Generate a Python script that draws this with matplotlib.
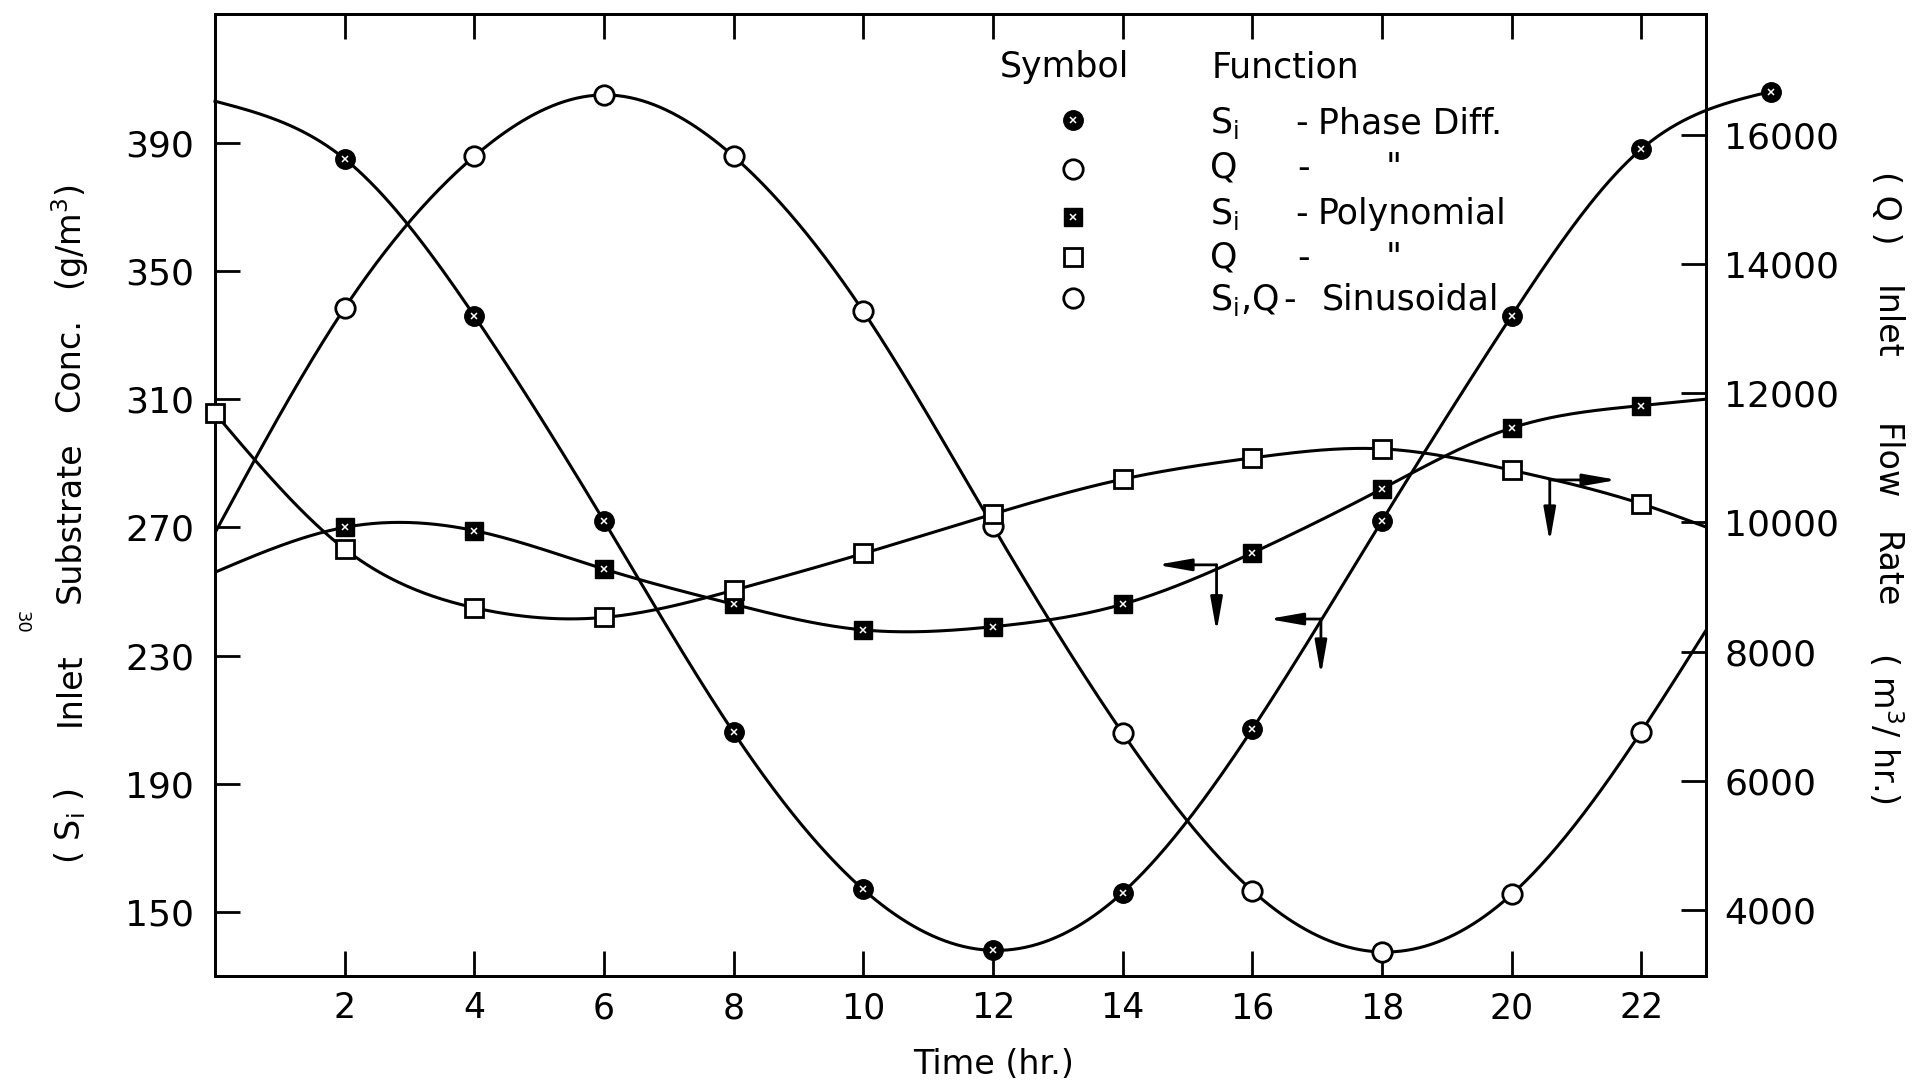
import numpy as np
import matplotlib
matplotlib.use("Agg")
import matplotlib.pyplot as plt
from matplotlib.lines import Line2D

plt.rcParams["font.family"] = ["DejaVu Sans"]
plt.rcParams["mathtext.default"] = "regular"

# ---- data -------------------------------------------------------------
# Inlet substrate concentration, phase-difference function (g/m3)
si_phase_t = [0, 2, 4, 6, 8, 10, 12, 14, 16, 18, 20, 22, 24]
si_phase = [403, 385, 336, 272, 206, 157, 138, 156, 207, 272, 336, 388, 406]
si_phase_marked = [2, 4, 6, 8, 10, 12, 14, 16, 18, 20, 22, 24]

# Inlet flow rate, phase-difference function (m3/hr)
q_phase_t = [0, 2, 4, 6, 8, 10, 12, 14, 16, 18, 20, 22, 23]
q_phase = [9840, 13320, 15670, 16620, 15670, 13270, 9940, 6740, 4300, 3350, 4240, 6760, 8330]
q_phase_marked = [2, 4, 6, 8, 10, 12, 14, 16, 18, 20, 22]

# Inlet substrate concentration, polynomial function (g/m3)
si_poly_t = [0, 2, 4, 6, 8, 10, 12, 14, 16, 18, 20, 22, 23]
si_poly = [256, 270, 269, 257, 246, 238, 239, 246, 262, 282, 301, 308, 310]
si_poly_marked = [2, 4, 6, 8, 10, 12, 14, 16, 18, 20, 22]

# Inlet flow rate, polynomial function (m3/hr)
q_poly_t = [0, 2, 4, 6, 8, 10, 12, 14, 16, 18, 20, 22, 23]
q_poly = [11690, 9590, 8680, 8530, 8950, 9520, 10130, 10670, 11000, 11140, 10810, 10290, 9930]
q_poly_marked = [0, 2, 4, 6, 8, 10, 12, 14, 16, 18, 20, 22]

time_ticks = [2, 4, 6, 8, 10, 12, 14, 16, 18, 20, 22]
si_ticks = [150, 190, 230, 270, 310, 350, 390]
q_ticks = [4000, 6000, 8000, 10000, 12000, 14000, 16000]


def smooth(x, y, n=500):
    """Natural cubic spline through the given points."""
    x = np.asarray(x, float)
    y = np.asarray(y, float)
    k = len(x)
    h = np.diff(x)
    A = np.zeros((k, k))
    r = np.zeros(k)
    A[0, 0] = A[-1, -1] = 1.0
    for i in range(1, k - 1):
        A[i, i - 1] = h[i - 1]
        A[i, i] = 2 * (h[i - 1] + h[i])
        A[i, i + 1] = h[i]
        r[i] = 3 * ((y[i + 1] - y[i]) / h[i] - (y[i] - y[i - 1]) / h[i - 1])
    c = np.linalg.solve(A, r)
    b = (y[1:] - y[:-1]) / h - h * (2 * c[:-1] + c[1:]) / 3
    d = (c[1:] - c[:-1]) / (3 * h)
    xs = np.linspace(x[0], x[-1], n)
    idx = np.clip(np.searchsorted(x, xs, side="right") - 1, 0, k - 2)
    dx = xs - x[idx]
    ys = y[idx] + b[idx] * dx + c[idx] * dx ** 2 + d[idx] * dx ** 3
    return xs, ys


def pick(ts, vals, marked):
    lookup = dict(zip(ts, vals))
    return marked, [lookup[t] for t in marked]


W, H = 1929, 1086
fig = plt.figure(figsize=(W / 100, H / 100), dpi=100)


def fx(px):
    return px / W


def fy(py):
    return 1 - py / H


ax = fig.add_axes([fx(215), fy(976), (1706 - 215) / W, (976 - 14) / H])
ax2 = ax.twinx()

ax.set_xlim(0, 23)
ax.set_ylim(130, 430.2)
ax2.set_ylim(2978, 17873)

LW = 2.2
MS_C = 14
MS_S = 13

# substrate curves (left axis)
xs, ys = smooth(si_phase_t, si_phase)
ax.plot(xs, ys, color="k", lw=LW, clip_on=False, zorder=3)
mx, my = pick(si_phase_t, si_phase, si_phase_marked)
ax.plot(mx, my, "o", ms=MS_C, mfc="k", mec="k", clip_on=False, zorder=4)
ax.plot(mx, my, "x", ms=5, mec="white", mew=1.1, clip_on=False, zorder=5)

xs, ys = smooth(si_poly_t, si_poly)
ax.plot(xs, ys, color="k", lw=LW, zorder=3)
mx, my = pick(si_poly_t, si_poly, si_poly_marked)
ax.plot(mx, my, "s", ms=MS_S, mfc="k", mec="k", clip_on=False, zorder=4)
ax.plot(mx, my, "x", ms=5, mec="white", mew=1.1, clip_on=False, zorder=5)

# flow curves (right axis)
xs, ys = smooth(q_phase_t, q_phase)
ax2.plot(xs, ys, color="k", lw=LW, zorder=3)
mx, my = pick(q_phase_t, q_phase, q_phase_marked)
ax2.plot(mx, my, "o", ms=MS_C, mfc="white", mec="k", mew=2, clip_on=False, zorder=4)

xs, ys = smooth(q_poly_t, q_poly)
ax2.plot(xs, ys, color="k", lw=LW, zorder=3)
mx, my = pick(q_poly_t, q_poly, q_poly_marked)
ax2.plot(mx, my, "s", ms=MS_S, mfc="white", mec="k", mew=2, clip_on=False, zorder=4)

# axes styling: inward ticks on all four sides
for a in (ax, ax2):
    for s in a.spines.values():
        s.set_linewidth(2)
ax.set_xticks(time_ticks)
ax.set_yticks(si_ticks)
ax2.set_yticks(q_ticks)
ax.xaxis.set_ticks_position("both")
ax.tick_params(axis="x", direction="in", length=18, width=2, color="k",
               top=True, bottom=True, labeltop=False, labelbottom=True,
               labelsize=25, pad=11)
ax.tick_params(axis="y", direction="in", length=18, width=2, color="k",
               left=True, right=False, labelsize=26, pad=15)
ax2.tick_params(axis="y", direction="in", length=18, width=2, color="k",
                labelsize=26, pad=13)

# axis-indicator arrows
arrow_style = dict(arrowstyle="-|>,head_length=1.7,head_width=0.3", lw=2,
                   color="k", shrinkA=0, shrinkB=0, mutation_scale=12)
for (jx, jy), hx, vy in [((15.45, 258.3), 14.53, 237.4),
                         ((17.06, 241.4), 16.25, 223.9)]:
    ax.annotate("", xy=(hx, jy), xytext=(jx, jy), arrowprops=arrow_style, zorder=6)
    ax.annotate("", xy=(jx, vy), xytext=(jx, jy), arrowprops=arrow_style, zorder=6)
ax.annotate("", xy=(21.63, 284.8), xytext=(20.59, 284.8), arrowprops=arrow_style, zorder=6)
ax.annotate("", xy=(20.59, 265.4), xytext=(20.59, 284.8), arrowprops=arrow_style, zorder=6)

# axis titles
fig.text(fx(994), fy(1065), "Time (hr.)", fontsize=24, ha="center", va="center")

left_words = [("(g/m$^3$)", 238), ("Conc.", 365), ("Substrate", 522),
              ("Inlet", 689), ("( S$_i$ )", 826)]
for word, py in left_words:
    fig.text(fx(70), fy(py), word, fontsize=24, rotation=90,
             ha="center", va="center")

right_words = [("( Q )", 208), ("Inlet", 323), ("Flow", 462), ("Rate", 570),
               ("( m$^3$/ hr.)", 728)]
for word, py in right_words:
    fig.text(fx(1885), fy(py), word, fontsize=24, rotation=-90,
             ha="center", va="center")

fig.text(fx(22), fy(622), "30", fontsize=13, rotation=-90, ha="center", va="center")

# key
KEY_FS = 25
fig.text(fx(1000), fy(77), "Symbol", fontsize=KEY_FS, ha="left", va="baseline")
fig.text(fx(1212), fy(77), "Function", fontsize=KEY_FS, ha="left", va="baseline")

filled_c = dict(marker="o", ms=MS_C, mfc="k", mec="k")
open_c = dict(marker="o", ms=MS_C, mfc="white", mec="k", mew=2)
filled_s = dict(marker="s", ms=MS_S, mfc="k", mec="k")
open_s = dict(marker="s", ms=MS_S, mfc="white", mec="k", mew=2)

# (baseline px, marker px, marker style, speckled, symbol, dash x, word, word x)
key_rows = [
    (133, 120, filled_c, True, "S$_i$", 1302, "Phase Diff.", 1318),
    (178, 169, open_c, False, "Q", 1304, None, None),
    (224, 217, filled_s, True, "S$_i$", 1302, "Polynomial", 1318),
    (268, 257, open_s, False, "Q", 1304, None, None),
    (310, 298, open_c, False, "S$_i$,Q", 1290, "Sinusoidal", 1322),
]
for base, my_px, mstyle, speck, sym, dash_x, word, word_x in key_rows:
    fig.add_artist(Line2D([fx(1073)], [fy(my_px)], transform=fig.transFigure,
                          linestyle="none", **mstyle))
    if speck:
        fig.add_artist(Line2D([fx(1073)], [fy(my_px)], transform=fig.transFigure,
                              linestyle="none", marker="x", ms=5, mec="white", mew=1.1))
    fig.text(fx(1210), fy(base), sym, fontsize=KEY_FS, ha="left", va="baseline")
    fig.text(fx(dash_x), fy(base), "-", fontsize=KEY_FS, ha="center", va="baseline")
    if word is None:
        fig.text(fx(1394), fy(base), "\"", fontsize=KEY_FS, ha="center", va="baseline")
    else:
        fig.text(fx(word_x), fy(base), word, fontsize=KEY_FS, ha="left", va="baseline")

fig.savefig("out.png", dpi=100, facecolor="white")
